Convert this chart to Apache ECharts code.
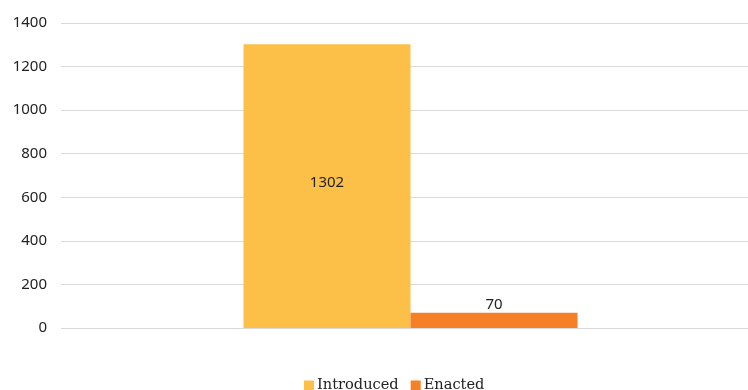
<!DOCTYPE html>
<html>
<head>
<meta charset="utf-8">
<script src="https://cdn.jsdelivr.net/npm/echarts@6/dist/echarts.min.js"></script>
<style>
html,body{margin:0;padding:0;background:#fff;}
#chart{width:748px;height:390px;}
</style>
</head>
<body>
<div id="chart"></div>
<script>
// Bills introduced vs. enacted
const categories = [''];
const introduced = [1302];
const enacted = [70];
const yTicks = { min: 0, max: 1400, interval: 200 };

const labelFont = { fontFamily: 'Noto Sans', fontSize: 15, color: '#222' };

const chart = echarts.init(document.getElementById('chart'), null, { renderer: 'canvas' });
chart.setOption({
  animation: false,
  backgroundColor: '#ffffff',
  grid: { left: 61, width: 699, top: 23, height: 305, containLabel: false, outerBoundsMode: 'none' },
  legend: {
    top: 373,
    left: 299,
    itemWidth: 10,
    itemHeight: 10,
    itemGap: 12,
    icon: 'rect',
    textStyle: { fontFamily: 'DejaVu Serif', fontSize: 14.6, color: '#222', padding: [0, 0, 0, -2] },
    data: ['Introduced', 'Enacted']
  },
  xAxis: {
    type: 'category',
    data: categories,
    axisLine: { show: false },
    axisTick: { show: false },
    axisLabel: { show: false }
  },
  yAxis: {
    type: 'value',
    min: yTicks.min,
    max: yTicks.max,
    interval: yTicks.interval,
    axisLine: { show: false },
    axisTick: { show: false },
    axisLabel: Object.assign({ margin: 14, formatter: v => String(v) }, labelFont),
    splitLine: { lineStyle: { color: '#d9d9d9', width: 1 } }
  },
  series: [
    {
      name: 'Introduced',
      type: 'bar',
      data: introduced,
      barWidth: 167,
      barGap: '0%',
      itemStyle: { color: '#FCC048' },
      label: Object.assign({ show: true, position: 'inside', offset: [0, -3] }, labelFont)
    },
    {
      name: 'Enacted',
      type: 'bar',
      data: enacted,
      barWidth: 167,
      barGap: '0%',
      itemStyle: { color: '#F58025' },
      label: Object.assign({ show: true, position: 'top', distance: 1 }, labelFont)
    }
  ]
});
</script>
</body>
</html>
